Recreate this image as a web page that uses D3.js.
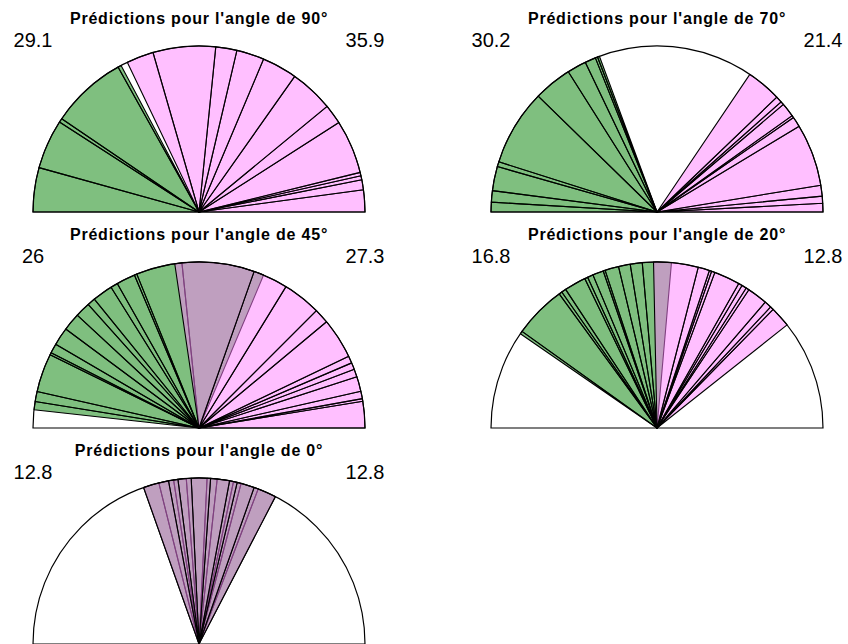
<!DOCTYPE html>
<html>
<head>
<meta charset="utf-8">
<script src="https://cdn.jsdelivr.net/npm/d3@7"></script>
<style>
  body { margin: 0; background: #fff; }
  text { font-family: "Liberation Sans", Arial, sans-serif; }
</style>
</head>
<body>
<svg id="viz"></svg>
<script>
var width = 848;
var height = 644;

// panel data (angles in degrees, 0 = right, 180 = left)
var titles = ["Prédictions pour l'angle de 90°", "Prédictions pour l'angle de 70°",
    "Prédictions pour l'angle de 45°", "Prédictions pour l'angle de 20°",
    "Prédictions pour l'angle de 0°"];
var leftValues = ["29.1", "30.2", "26", "16.8", "12.8"];
var rightValues = ["35.9", "21.4", "27.3", "12.8", "12.8"];

var green90 = [180, 164.5, 147.2, 145.8, 119.2, 118.0];
var pink90 = [0, 7.7, 11.2, 12.6, 13.8, 32.6, 39.5, 54.8, 67.1, 76.8, 84.2, 106.1, 115.6];

var green70 = [180, 176.6, 172.6, 164.1, 162.4, 135.7, 122.3, 115.6, 111.8, 111.0, 110.3];
var pink70 = [0, 3.0, 5.5, 9.3, 31.1, 34.7, 35.5, 40.4, 41.6, 43.8, 56.0];

var green45 = [173.7, 170.8, 167.3, 153.8, 153.0, 149.7, 143.4, 137.2, 131.9, 129.1,
    122.0, 119.5, 112.9, 112.0, 95.9, 67.1];
var pink45 = [0, 9.3, 10.2, 12.8, 18.0, 20.7, 23.1, 25.6, 39.8, 45.0, 58.4, 70.6, 98.4];

var green20 = [145.4, 144.4, 126.1, 125.0, 123.4, 115.8, 114.7, 112.7, 108.9, 108.2,
    103.4, 99.3, 95.1, 85.0];
var pink20 = [38.4, 45.6, 46.8, 49.3, 56.4, 57.5, 59.2, 60.5, 69.6, 70.8, 71.6, 75.6, 91.2];

var green0 = [109.5, 104.0, 98.8, 94.4, 87.2, 83.7, 78.0, 75.3, 69.1, 62.6];
var pink0 = [62.6, 70.6, 76.7, 79.4, 86.0, 92.7, 97.3, 100.6, 109.5];

var greens = [green90, green70, green45, green20, green0];
var pinks = [pink90, pink70, pink45, pink20, pink0];

var radius = 166;

var svg = d3.select("#viz")
    .attr("width", width)
    .attr("height", height);

// degrees -> d3 arc angle
var ang = d3.scaleLinear().domain([0, 180]).range([Math.PI / 2, -Math.PI / 2]);

var arc = d3.arc().innerRadius(0).outerRadius(radius);

function sectors(bounds) {
    var out = [];
    for (var i = 0; i < bounds.length - 1; i++) {
        out.push({ a: bounds[i], b: bounds[i + 1] });
    }
    return out;
}

function sectorPath(d) {
    var s = ang(d.a), e = ang(d.b);
    return arc({ startAngle: Math.min(s, e), endAngle: Math.max(s, e) });
}

titles.forEach(function (title, i) {
    var cx = 199 + (i % 2) * 458;
    var cy = 212 + Math.floor(i / 2) * 216;

    var g = svg.append("g")
        .attr("transform", "translate(" + cx + "," + cy + ")");

    g.selectAll("path.green")
        .data(sectors(greens[i]))
        .enter().append("path")
        .attr("class", "green")
        .attr("d", sectorPath)
        .attr("fill", "rgba(0,128,0,0.5)")
        .attr("stroke", "#000")
        .attr("stroke-width", 1.1)
        .attr("stroke-linejoin", "round");

    g.selectAll("path.pink")
        .data(sectors(pinks[i]))
        .enter().append("path")
        .attr("class", "pink")
        .attr("d", sectorPath)
        .attr("fill", "rgba(255,128,255,0.5)")
        .attr("stroke", "#000")
        .attr("stroke-width", 1.1)
        .attr("stroke-linejoin", "round");

    // outline of the half circle
    g.append("path")
        .attr("d", d3.arc().innerRadius(0).outerRadius(radius)
            .startAngle(-Math.PI / 2).endAngle(Math.PI / 2)())
        .attr("fill", "none")
        .attr("stroke", "#000")
        .attr("stroke-width", 1.2);

    g.append("text")
        .attr("x", 0)
        .attr("y", -188)
        .attr("text-anchor", "middle")
        .style("font-weight", "bold")
        .style("font-size", "16px")
        .style("letter-spacing", "0.8px")
        .text(title);

    g.append("text")
        .attr("x", -radius)
        .attr("y", -165)
        .attr("text-anchor", "middle")
        .style("font-size", "20px")
        .text(leftValues[i]);

    g.append("text")
        .attr("x", radius)
        .attr("y", -165)
        .attr("text-anchor", "middle")
        .style("font-size", "20px")
        .text(rightValues[i]);
});
</script>
</body>
</html>
